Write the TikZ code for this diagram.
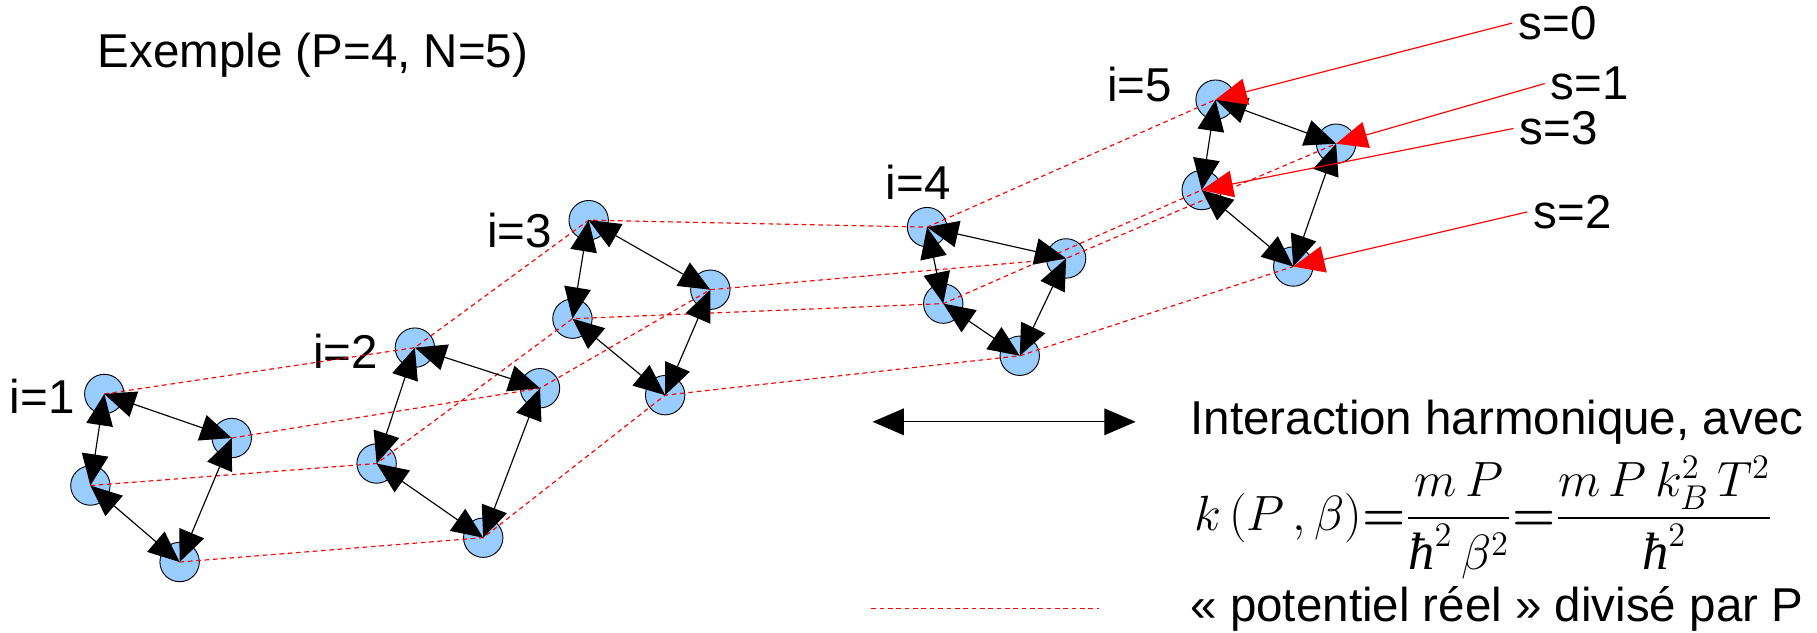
\documentclass[tikz,border=0pt]{standalone}
\usepackage{amsmath}
\usepackage{fontspec}
\setmainfont{Liberation Sans}
\newfontfamily\serifit{Liberation Serif}
\usetikzlibrary{arrows.meta}
\definecolor{beadblue}{HTML}{99CCFF}
\newcommand{\hb}{\text{\serifit\itshape ħ}}

\begin{document}
\begin{tikzpicture}[
  x=0.5pt, y=-0.5pt,
  bead/.style={circle, draw, line width=0.4pt, fill=beadblue, minimum size=17pt, inner sep=0pt},
  lbl/.style={font=\fontsize{20.5}{24}\selectfont, inner sep=0pt, anchor=base west},
  slbl/.style={lbl, inner xsep=2.5pt},
  spring/.style={{Triangle[length=13.5pt,width=11.5pt]}-{Triangle[length=13.5pt,width=11.5pt]}, line width=0.5pt},
  pot/.style={red, dash pattern=on 2pt off 1.6pt, line width=0.5pt},
  sarrow/.style={-{Triangle[length=13.5pt,width=11.5pt]}, red, line width=0.5pt},
]
\useasboundingbox (0,0) rectangle (1568,546);

%% --- Title ---
\node[lbl] (exemple) at (84,58) {Exemple (P=4, N=5)};

%% --- Beads: i = atom, s = replica ---
\node[bead] (i1s0) at (90,340) {};  \node[bead] (i1s1) at (200,378) {};
\node[bead] (i1s2) at (155,485) {}; \node[bead] (i1s3) at (78,419) {};
\node[bead] (i2s0) at (358,300) {}; \node[bead] (i2s1) at (466,335) {};
\node[bead] (i2s2) at (417,464) {}; \node[bead] (i2s3) at (325,400) {};
\node[bead] (i3s0) at (508,190) {}; \node[bead] (i3s1) at (613,250) {};
\node[bead] (i3s2) at (574,341) {}; \node[bead] (i3s3) at (494,275) {};
\node[bead] (i4s0) at (800,196) {}; \node[bead] (i4s1) at (920,223) {};
\node[bead] (i4s2) at (880,307) {}; \node[bead] (i4s3) at (814,262) {};
\node[bead] (i5s0) at (1049,86) {}; \node[bead] (i5s1) at (1153,124) {};
\node[bead] (i5s2) at (1116,230) {}; \node[bead] (i5s3) at (1037,164) {};

%% --- Atom labels ---
\node[lbl] (lab1) at (8,357)   {i=1};
\node[lbl] (lab2) at (270,318) {i=2};
\node[lbl] (lab3) at (420,214) {i=3};
\node[lbl] (lab4) at (764,172) {i=4};
\node[lbl] (lab5) at (955,88)  {i=5};

%% --- Real potential between same replicas ---
\draw[pot] (i1s0.center) -- (i2s0.center) -- (i3s0.center) -- (i4s0.center) -- (i5s0.center);
\draw[pot] (i1s1.center) -- (i2s1.center) -- (i3s1.center) -- (i4s1.center) -- (i5s1.center);
\draw[pot] (i1s2.center) -- (i2s2.center) -- (i3s2.center) -- (i4s2.center) -- (i5s2.center);
\draw[pot] (i1s3.center) -- (i2s3.center) -- (i3s3.center) -- (i4s3.center) -- (i5s3.center);

%% --- Harmonic springs inside each ring ---
\draw[spring] (i1s0.center) -- (i1s1.center); \draw[spring] (i1s1.center) -- (i1s2.center);
\draw[spring] (i1s2.center) -- (i1s3.center); \draw[spring] (i1s3.center) -- (i1s0.center);
\draw[spring] (i2s0.center) -- (i2s1.center); \draw[spring] (i2s1.center) -- (i2s2.center);
\draw[spring] (i2s2.center) -- (i2s3.center); \draw[spring] (i2s3.center) -- (i2s0.center);
\draw[spring] (i3s0.center) -- (i3s1.center); \draw[spring] (i3s1.center) -- (i3s2.center);
\draw[spring] (i3s2.center) -- (i3s3.center); \draw[spring] (i3s3.center) -- (i3s0.center);
\draw[spring] (i4s0.center) -- (i4s1.center); \draw[spring] (i4s1.center) -- (i4s2.center);
\draw[spring] (i4s2.center) -- (i4s3.center); \draw[spring] (i4s3.center) -- (i4s0.center);
\draw[spring] (i5s0.center) -- (i5s1.center); \draw[spring] (i5s1.center) -- (i5s2.center);
\draw[spring] (i5s2.center) -- (i5s3.center); \draw[spring] (i5s3.center) -- (i5s0.center);

%% --- Replica labels ---
\node[slbl] (s0) at (1305,34)  {s=0};
\node[slbl] (s1) at (1333,86)  {s=1};
\node[slbl] (s3) at (1306,125) {s=3};
\node[slbl] (s2) at (1318,197) {s=2};
\draw[sarrow] (s0.west) -- (i5s0.center);
\draw[sarrow] (s1.west) -- (i5s1.center);
\draw[sarrow] (s3.west) -- (i5s3.center);
\draw[sarrow] (s2.west) -- (i5s2.center);

%% --- Legend ---
\coordinate (hl) at (753,364);
\coordinate (hr) at (980,364);
\draw[spring] (hl) -- (hr);
\node[lbl] (inter) at (1027,375) {Interaction harmonique, avec};
\node[anchor=west, inner sep=0pt] (kform) at (1030,447)
  {\scalebox{1.03}{\fontsize{22}{26}\selectfont $k\,(P\,,\beta){\boldsymbol{=}}\dfrac{m\,P}{\hb^2\,\beta^2}{\boldsymbol{=}}\dfrac{m\,P\,k_B^2\,T^2}{\hb^2}$}};
\coordinate (pl) at (752,525);
\coordinate (pr) at (948,525);
\draw[pot] (pl) -- (pr);
\node[lbl] (divP) at (1027,536) {« potentiel réel » divisé par P};

\end{tikzpicture}
\end{document}
